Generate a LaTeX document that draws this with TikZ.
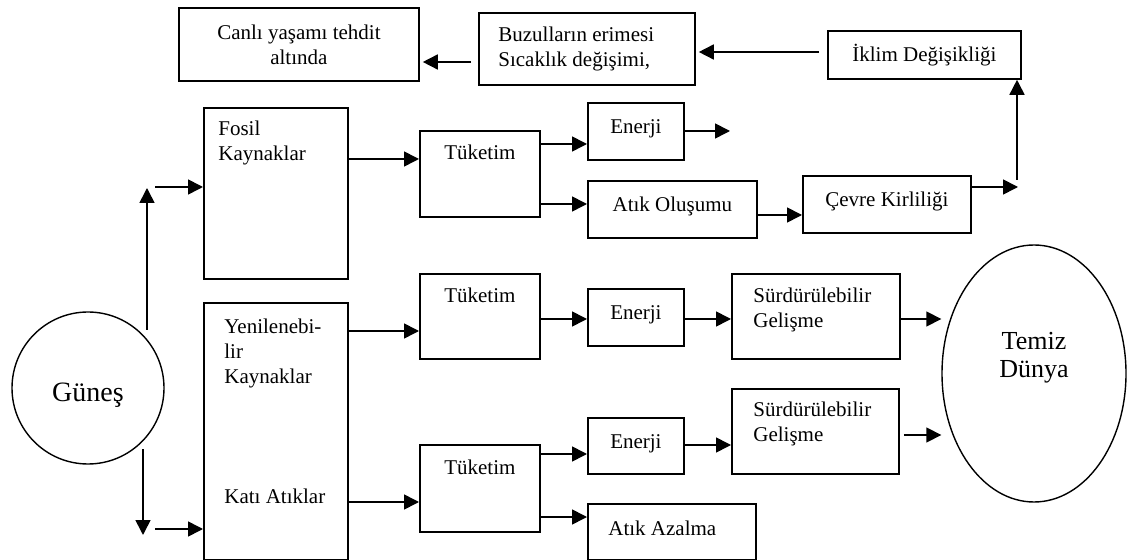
\documentclass[tikz,border=0pt]{standalone}
\usepackage{fontspec}
\setmainfont{Liberation Serif}
\usetikzlibrary{shapes.geometric, arrows.meta, positioning}

\tikzset{
  kutu/.style={draw, line width=0.9pt, anchor=north west, inner sep=2pt},
  tek/.style={text height=0.68em, text depth=0.45em},
  ust/.style={anchor=north west, inner sep=0pt, align=left},
  baslik/.style={anchor=north, inner sep=0pt, yshift=-7.25pt},
  ok/.style={-{Triangle[length=7.5pt, width=7.5pt]}, line width=0.8pt},
}

\begin{document}
\begin{tikzpicture}[x=0.5pt, y=-0.5pt, font=\fontsize{10.5}{12.5}\selectfont]
    \useasboundingbox (0,0) rectangle (1128,560);

    % ust sira
    \node[kutu, align=center, minimum width=120pt, minimum height=36.5pt] (canli) at (178,7)
      {Canlı yaşamı tehdit\\altında};
    \node[kutu, minimum width=108pt, minimum height=36pt,
          label={[anchor=west, inner sep=0pt, align=left, xshift=10pt]west:Buzulların erimesi\\Sıcaklık değişimi,}] (buzul) at (478,12) {};
    \node[kutu, minimum width=96.5pt, minimum height=24pt] (iklim) at (827,30) {İklim Değişikliği};

    % kaynaklar
    \node[kutu, minimum width=72pt, minimum height=85.5pt,
          label={[ust, xshift=7.5pt, yshift=-6.75pt]north west:Fosil\\Kaynaklar}] (fosil) at (203,107) {};
    \node[kutu, minimum width=72pt, minimum height=128.5pt,
          label={[ust, xshift=10.5pt, yshift=-8.25pt]north west:Yenilenebi-\\lir\\Kaynaklar},
          label={[ust, xshift=10.5pt, yshift=-93.25pt]north west:Katı Atıklar}] (yenil) at (203,302) {};
    \node[circle, draw, line width=0.7pt, minimum size=76pt,
          label={[font=\fontsize{14}{16}\selectfont, yshift=-3.5pt]center:Güneş}] (gunes) at (88,388) {};

    % fosil kolu
    \node[kutu, minimum width=60pt, minimum height=43pt, label={[baslik]north:Tüketim}] (tuk1) at (419,130) {};
    \node[kutu, tek, minimum width=48pt, minimum height=28.5pt] (en1) at (587,102) {Enerji};
    \node[kutu, tek, minimum width=84.5pt, minimum height=28.5pt] (atik1) at (587,180) {Atık Oluşumu};
    \node[kutu, tek, minimum width=84pt, minimum height=28.5pt] (cevre) at (802,175) {Çevre Kirliliği};

    % yenilenebilir kolu
    \node[kutu, minimum width=60pt, minimum height=42.5pt, label={[baslik]north:Tüketim}] (tuk2) at (419,273) {};
    \node[kutu, tek, minimum width=48pt, minimum height=28.5pt] (en2) at (587,288) {Enerji};
    \node[kutu, minimum width=84pt, minimum height=42.5pt,
          label={[ust, xshift=11pt, yshift=-7.25pt]north west:Sürdürülebilir\\Gelişme}] (surd1) at (731,273) {};

    % kati atik kolu
    \node[kutu, minimum width=60pt, minimum height=43.5pt, label={[baslik, yshift=-0.5pt]north:Tüketim}] (tuk3) at (419,444) {};
    \node[kutu, tek, minimum width=48pt, minimum height=28pt] (en3) at (587,417) {Enerji};
    \node[kutu, minimum width=83.5pt, minimum height=42.5pt,
          label={[ust, xshift=11pt, yshift=-6.75pt]north west:Sürdürülebilir\\Gelişme}] (surd2) at (731,388) {};
    \node[kutu, minimum width=84pt, minimum height=28pt,
          label={[anchor=west, inner sep=0pt, xshift=10.5pt, yshift=2pt]west:Atık Azalma}] (azal) at (587,503) {};

    \node[ellipse, draw, line width=0.7pt, minimum width=92pt, minimum height=128.5pt,
          label={[align=center, font=\fontsize{13}{14}\selectfont, yshift=8pt]center:Temiz\\Dünya}] (temiz) at (1034,373.5) {};

    % serbest uclar
    \coordinate (bos) at (730,131);
    \coordinate (kose) at (1018,187);
    \coordinate (yukari) at (1017,180);
    \coordinate (g1) at (147,330);
    \coordinate (g2) at (147,188);
    \coordinate (g3) at (155,187);
    \coordinate (g4) at (143,449);
    \coordinate (g5) at (143,535);
    \coordinate (g6) at (155,529);

    % oklar
    \draw[ok, shorten <=3.5pt, shorten >=1.5pt] (buzul.west |- 0,62) -- (canli.east |- 0,62);
    \draw[ok, shorten <=4pt, shorten >=1.5pt] (iklim.west |- 0,52) -- (buzul.east |- 0,52);
    \draw[ok] (yukari) -- (yukari |- iklim.south);
    \draw[ok] (cevre.east |- kose) -- (kose);

    \draw[ok] (g1) -- (g2);
    \draw[ok] (g3) -- (fosil.west |- g3);
    \draw[ok] (g4) -- (g5);
    \draw[ok] (g6) -- (yenil.west |- g6);

    \draw[ok] (fosil.east |- 0,159) -- (tuk1.west |- 0,159);
    \draw[ok] (tuk1.east |- 0,144) -- (en1.west |- 0,144);
    \draw[ok] (en1.east |- bos) -- (bos);
    \draw[ok] (tuk1.east |- 0,204) -- (atik1.west |- 0,204);
    \draw[ok] (atik1.east |- 0,215) -- (cevre.west |- 0,215);

    \draw[ok] (yenil.east |- 0,331) -- (tuk2.west |- 0,331);
    \draw[ok] (tuk2.east |- 0,319) -- (en2.west |- 0,319);
    \draw[ok] (en2.east |- 0,319) -- (surd1.west |- 0,319);
    \draw[ok] (surd1.east |- 0,319) -- (temiz.west |- 0,319);

    \draw[ok] (yenil.east |- 0,502) -- (tuk3.west |- 0,502);
    \draw[ok] (tuk3.east |- 0,454) -- (en3.west |- 0,454);
    \draw[ok] (en3.east |- 0,445) -- (surd2.west |- 0,445);
    \draw[ok, shorten <=2pt] (surd2.east |- 0,435) -- (temiz.west |- 0,435);
    \draw[ok] (tuk3.east |- 0,517) -- (azal.west |- 0,517);
\end{tikzpicture}
\end{document}
